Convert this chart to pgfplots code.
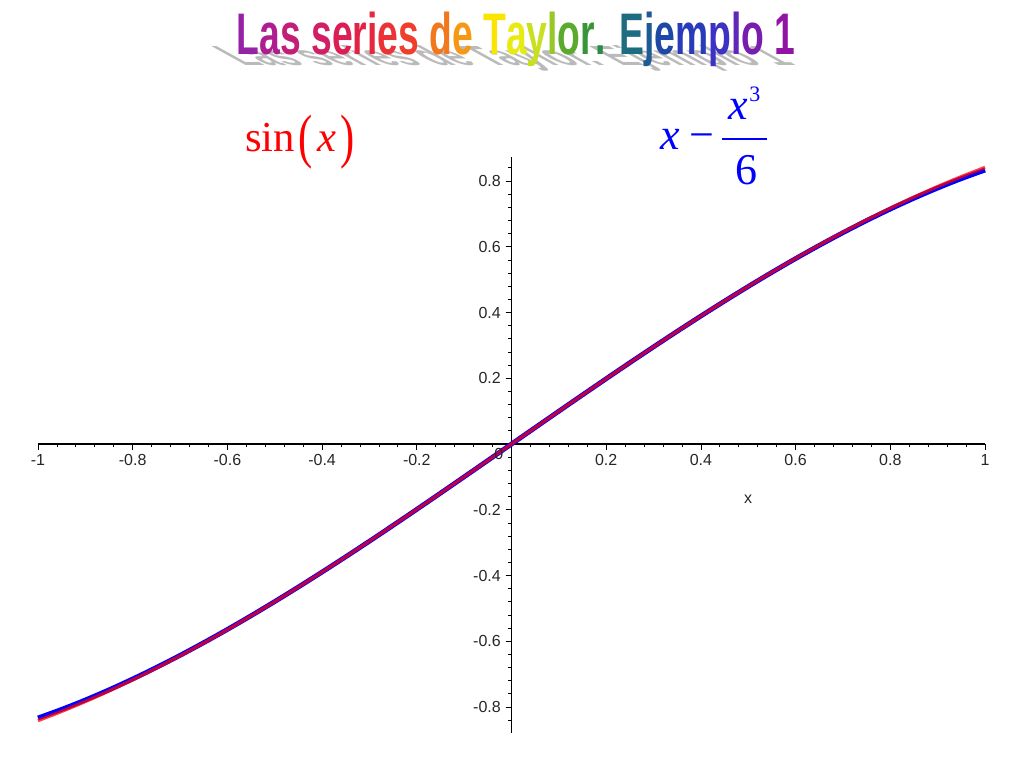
\documentclass[border=0pt]{standalone}
\usepackage{pgfplots}
\pgfplotsset{compat=1.18}
\usepackage{pgfplotstable}
\usepackage{fontspec}
\setmainfont{Liberation Sans}
\newfontfamily\serif{Liberation Serif}

\pgfplotstableread{
x      s          t
-1.00 -0.8414710 -0.8333333
-0.95 -0.8134155 -0.8071042
-0.90 -0.7833269 -0.7785000
-0.85 -0.7512804 -0.7476458
-0.80 -0.7173561 -0.7146667
-0.75 -0.6816388 -0.6796875
-0.70 -0.6442177 -0.6428333
-0.65 -0.6051864 -0.6042292
-0.60 -0.5646425 -0.5640000
-0.55 -0.5226872 -0.5222708
-0.50 -0.4794255 -0.4791667
-0.45 -0.4349655 -0.4348125
-0.40 -0.3894183 -0.3893333
-0.35 -0.3428978 -0.3428542
-0.30 -0.2955202 -0.2955000
-0.25 -0.2474040 -0.2473958
-0.20 -0.1986693 -0.1986667
-0.15 -0.1494381 -0.1494375
-0.10 -0.0998334 -0.0998333
-0.05 -0.0499792 -0.0499792
 0.00  0.0000000  0.0000000
 0.05  0.0499792  0.0499792
 0.10  0.0998334  0.0998333
 0.15  0.1494381  0.1494375
 0.20  0.1986693  0.1986667
 0.25  0.2474040  0.2473958
 0.30  0.2955202  0.2955000
 0.35  0.3428978  0.3428542
 0.40  0.3894183  0.3893333
 0.45  0.4349655  0.4348125
 0.50  0.4794255  0.4791667
 0.55  0.5226872  0.5222708
 0.60  0.5646425  0.5640000
 0.65  0.6051864  0.6042292
 0.70  0.6442177  0.6428333
 0.75  0.6816388  0.6796875
 0.80  0.7173561  0.7146667
 0.85  0.7512804  0.7476458
 0.90  0.7833269  0.7785000
 0.95  0.8134155  0.8071042
 1.00  0.8414710  0.8333333
}\datatable

\newcommand{\cl}[2]{\textcolor[RGB]{#1}{#2}}
\newcommand{\titletext}{%
\cl{150,35,165}{L}\cl{175,30,145}{a}\cl{195,30,120}{s} %
\cl{210,30,100}{s}\cl{220,30,85}{e}\cl{226,35,72}{r}\cl{230,40,62}{i}\cl{235,50,52}{e}\cl{240,62,45}{s} %
\cl{242,120,30}{d}\cl{246,152,20}{e} %
\cl{250,228,0}{T}\cl{232,234,20}{a}\cl{200,224,30}{y}\cl{150,200,40}{l}\cl{90,170,45}{o}\cl{55,150,55}{r}\cl{40,140,70}{.} %
\cl{30,108,130}{E}\cl{30,90,150}{j}\cl{30,72,165}{e}\cl{40,60,185}{m}\cl{60,50,195}{p}\cl{95,40,185}{l}\cl{120,30,175}{o} %
\cl{145,20,165}{1}}

\begin{document}
\begin{tikzpicture}
\path[use as bounding box] (0,0) rectangle (768pt,576pt);
\begin{axis}[
  at={(28.5pt,26.25pt)}, anchor=south west,
  scale only axis, width=710.25pt, height=432pt,
  xmin=-1, xmax=1, ymin=-0.879, ymax=0.873,
  axis lines=middle,
  axis line style={-, line width=0.9pt},
  xtick={-1,-0.8,-0.6,-0.4,-0.2,0.2,0.4,0.6,0.8,1},
  ytick={-0.8,-0.6,-0.4,-0.2,0.2,0.4,0.6,0.8},
  minor xtick={-1,-0.96,...,1.01},
  minor ytick={-0.84,-0.8,...,0.85},
  tick style={black, line width=0.6pt},
  tick align=outside,
  major tick length=4.5pt, minor tick length=2.5pt,
  ticklabel style={font=\fontsize{12}{14}\selectfont, text=black!85},
  /pgf/number format/assume math mode=true,
  clip=false,
]
\addplot[blue, line width=3.6pt, smooth] table[x=x, y=t] {\datatable};
\addplot[red, line width=2.4pt, smooth, opacity=0.75] table[x=x, y=s] {\datatable};
\node[anchor=north east, inner sep=0pt, font=\fontsize{12}{14}\selectfont, text=black!85] at (axis cs:0,0) [xshift=-6pt, yshift=-3pt] {0};
\end{axis}

\begin{scope}[x=0.75pt, y=-0.75pt, yshift=576pt]
  % title shadow
  \begin{scope}[shift={(520,66)}]
    \node[transform shape, cm={1,0,-0.85,0.47,(0,0)}, anchor=base, inner sep=0pt, black!27,
      font=\bfseries\fontsize{44}{50}\selectfont] at (0,0) {\scalebox{0.635}[1]{Las series de Taylor. Ejemplo 1}};
  \end{scope}
  % title
  \node[anchor=base, inner sep=0pt, font=\bfseries\fontsize{44}{50}\selectfont] at (516,55)
    {\scalebox{0.635}[1]{\titletext}};
  % sin(x)
  \begin{scope}[red, every node/.style={anchor=base west, inner sep=0pt, font=\serif\fontsize{32}{36}\selectfont}]
    \node at (245,152) {sin};
    \node at (298,157) {\scalebox{1}[1.4]{(}};
    \node at (317,152) {\itshape x};
    \node at (340,157) {\scalebox{1}[1.4]{)}};
  \end{scope}
  % x - x^3/6
  \begin{scope}[blue, every node/.style={anchor=base west, inner sep=0pt, font=\serif\fontsize{33}{36}\selectfont}]
    \node at (660,150) {\itshape x};
    \node at (689,150) {\char"2212};
    \draw[line width=1.5pt] (722,139) -- (767,139);
    \node at (728,120) {\itshape x};
    \node[font=\serif\fontsize{16.5}{18}\selectfont] at (749,102) {3};
    \node at (735,185) {6};
  \end{scope}
  % axis label
  \node[font=\fontsize{12}{14}\selectfont, inner sep=0pt, text=black!85] at (748,499) {x};
\end{scope}
\end{tikzpicture}
\end{document}
